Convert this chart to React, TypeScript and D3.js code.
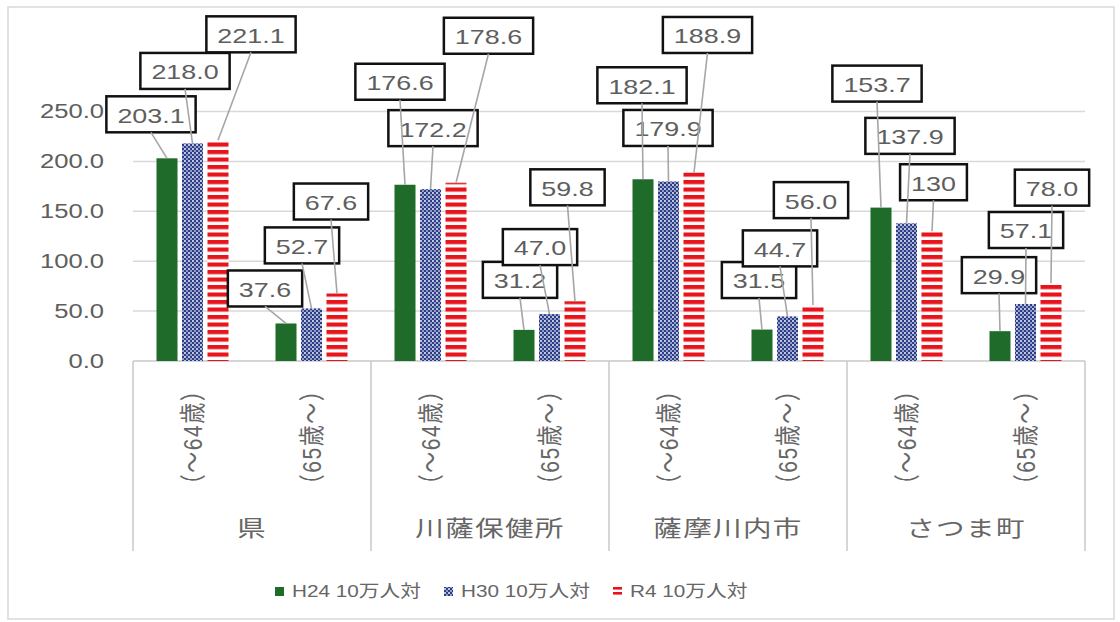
import React from 'react';
import * as d3 from 'd3';

// ---- data ----
const groups = ['県', '川薩保健所', '薩摩川内市', 'さつま町'];
const ageGroups = ['（～64歳）', '（65歳～）'];
const seriesNames = ['H24 10万人対', 'H30 10万人対', 'R4 10万人対'];
const h24 = [203.1, 37.6, 176.6, 31.2, 182.1, 31.5, 153.7, 29.9];
const h30 = [218.0, 52.7, 172.2, 47.0, 179.9, 44.7, 137.9, 57.1];
const r4 = [221.1, 67.6, 178.6, 59.8, 188.9, 56.0, 130, 78.0];
const yTicks = [0, 50, 100, 150, 200, 250];
// labels shown without decimals: [subcategory index, series index]
const wholeNumberLabels = [[6, 2]];

// ---- layout (label box offsets from bar top, px) ----
const labelOffsets: [number, number][][] = [
  [[-16, -44], [-7.5, -72.5], [33, -106]],
  [[-21, -35], [-9.5, -63], [-6, -92]],
  [[-5, -103], [2.5, -61], [32.5, -147]],
  [[-4, -50], [-9.5, -67], [-7.5, -114]],
  [[-1, -94], [-0.5, -53.5], [13.5, -137.5]],
  [[-3, -49.5], [-7.5, -68], [-2, -105]],
  [[-4, -124], [3.5, -87.5], [1.5, -49]],
  [[-1, -56], [0.5, -74], [1, -95.5]],
];

const W = 1120, H = 622;
const plot = { left: 133, right: 1085, top: 111.5, bottom: 361 };
const TXT = '#5e5e5e';
const FONT = '"Liberation Sans", Arial, "Noto Sans CJK JP", sans-serif';
const SX = 1.28;

const T = ({ x, y, size, anchor = 'middle', sx = SX, rotate = 0, ls = 0, fill = TXT, children }: any) => (
  <text
    transform={`translate(${x},${y}) scale(${sx},1)${rotate ? ` rotate(${rotate})` : ''}`}
    fontSize={size}
    textAnchor={anchor}
    dominantBaseline="central"
    fill={fill}
    fontFamily={FONT}
    letterSpacing={ls}
  >
    {children}
  </text>
);

export default function App() {
  const series = [h24, h30, r4];
  const fills = ['#1f6b2a', 'url(#dots)', 'url(#stripes)'];
  const subs = d3.range(groups.length * ageGroups.length);
  const x0 = d3.scaleBand<number>().domain(subs).range([plot.left, plot.right]);
  const innerW = 72;
  const x1 = d3.scaleBand<number>().domain([0, 1, 2]).range([0, innerW]).paddingInner(0.176);
  const off = (x0.bandwidth() - innerW) / 2;
  const y = d3.scaleLinear().domain([0, 250]).range([plot.bottom, plot.top]);
  const groupW = x0.bandwidth() * ageGroups.length;

  const bars: any[] = [];
  const boxes: any[] = [];
  const leaders: any[] = [];
  subs.forEach((i) => {
    series.forEach((s, k) => {
      const v = s[i];
      const bx = (x0(i) as number) + off + (x1(k) as number);
      const bw = x1.bandwidth();
      const top = y(v);
      bars.push(<rect key={`b${i}-${k}`} x={bx} y={top} width={bw} height={plot.bottom - top} fill={fills[k]} />);
      const whole = wholeNumberLabels.some(([a, b]) => a === i && b === k);
      const label = whole ? d3.format('d')(v) : d3.format('.1f')(v);
      const nd = label.replace('.', '').length;
      const ndot = label.includes('.') ? 1 : 0;
      const tw = (nd * 0.556 + ndot * 0.278) * 21 * SX;
      const boxW = tw + 22;
      const boxH = 36;
      const cx = bx + bw / 2 + labelOffsets[i][k][0];
      const cy = top + labelOffsets[i][k][1];
      boxes.push(
        <g key={`l${i}-${k}`}>
          <rect x={cx - boxW / 2} y={cy - boxH / 2} width={boxW} height={boxH} fill="#fff" stroke="#111" strokeWidth={2.5} />
          <T x={cx} y={cy + 1} size={21}>{label}</T>
        </g>
      );
      leaders.push(
        <line key={`ld${i}-${k}`} x1={cx} y1={cy + boxH / 2} x2={bx + bw / 2} y2={top} stroke="#a6a6a6" strokeWidth={1.6} />
      );
    });
  });

  const legendX = [275, 444, 613];
  const legendFill = ['#1f6b2a', 'url(#dots)', 'url(#stripesL)'];

  return (
    <svg width={W} height={H} style={{ position: 'absolute', left: 0, top: 0, background: '#fff' }}>
      <defs>
        <pattern id="dots" width="4" height="4" patternUnits="userSpaceOnUse">
          <rect width="4" height="4" fill="#2c3d86" />
          <circle cx="1" cy="1" r="0.95" fill="#ffffff" />
          <circle cx="3" cy="3" r="0.95" fill="#b9c8ee" />
        </pattern>
        <pattern id="stripes" width="8" height="7.5" patternUnits="userSpaceOnUse">
          <rect width="8" height="7.5" fill="#ffffff" />
          <rect width="8" height="4.2" fill="#e8141c" />
        </pattern>
        <pattern id="stripesL" width="9" height="5" patternUnits="userSpaceOnUse" y="587">
          <rect width="9" height="5" fill="#ffffff" />
          <rect width="9" height="2.6" fill="#e8141c" />
        </pattern>
      </defs>
      <rect x={0} y={0} width={W} height={H} fill="#fff" />
      <rect x={8} y={7} width={1106} height={612} fill="#fff" stroke="#d9d9d9" strokeWidth={1.5} />

      {/* gridlines */}
      {yTicks.map((t) => (
        <line key={`g${t}`} x1={plot.left} x2={plot.right} y1={y(t)} y2={y(t)} stroke={t === 0 ? '#c8c8c8' : '#d9d9d9'} strokeWidth={1.5} />
      ))}
      {/* y tick labels */}
      {yTicks.map((t) => (
        <T key={`yt${t}`} x={104} y={y(t)} size={20} anchor="end">{d3.format('.1f')(t)}</T>
      ))}

      {/* category dividers */}
      {d3.range(groups.length + 1).map((g) => (
        <line key={`d${g}`} x1={plot.left + g * groupW} x2={plot.left + g * groupW} y1={plot.bottom} y2={551} stroke="#c8c8c8" strokeWidth={1.5} />
      ))}

      {/* sub labels (rotated) */}
      {subs.map((i) => (
        <T key={`s${i}`} x={(x0(i) as number) + x0.bandwidth() / 2} y={437} size={21} sx={1.25} ls={1.5} rotate={-90} fill="#666">
          {ageGroups[i % ageGroups.length]}
        </T>
      ))}
      {/* group labels */}
      {groups.map((g, gi) => (
        <T key={`gl${gi}`} x={plot.left + gi * groupW + groupW / 2} y={528} size={22} sx={1.3} ls={1} fill="#666">{g}</T>
      ))}

      {bars}
      {boxes}
      {leaders}

      {/* legend */}
      {seriesNames.map((s, k) => (
        <g key={`lg${k}`}>
          <rect x={legendX[k]} y={587} width={9} height={9} fill={legendFill[k]} />
          <T x={legendX[k] + 17} y={591} size={17} anchor="start" sx={1.22} fill="#666">{s}</T>
        </g>
      ))}
    </svg>
  );
}
